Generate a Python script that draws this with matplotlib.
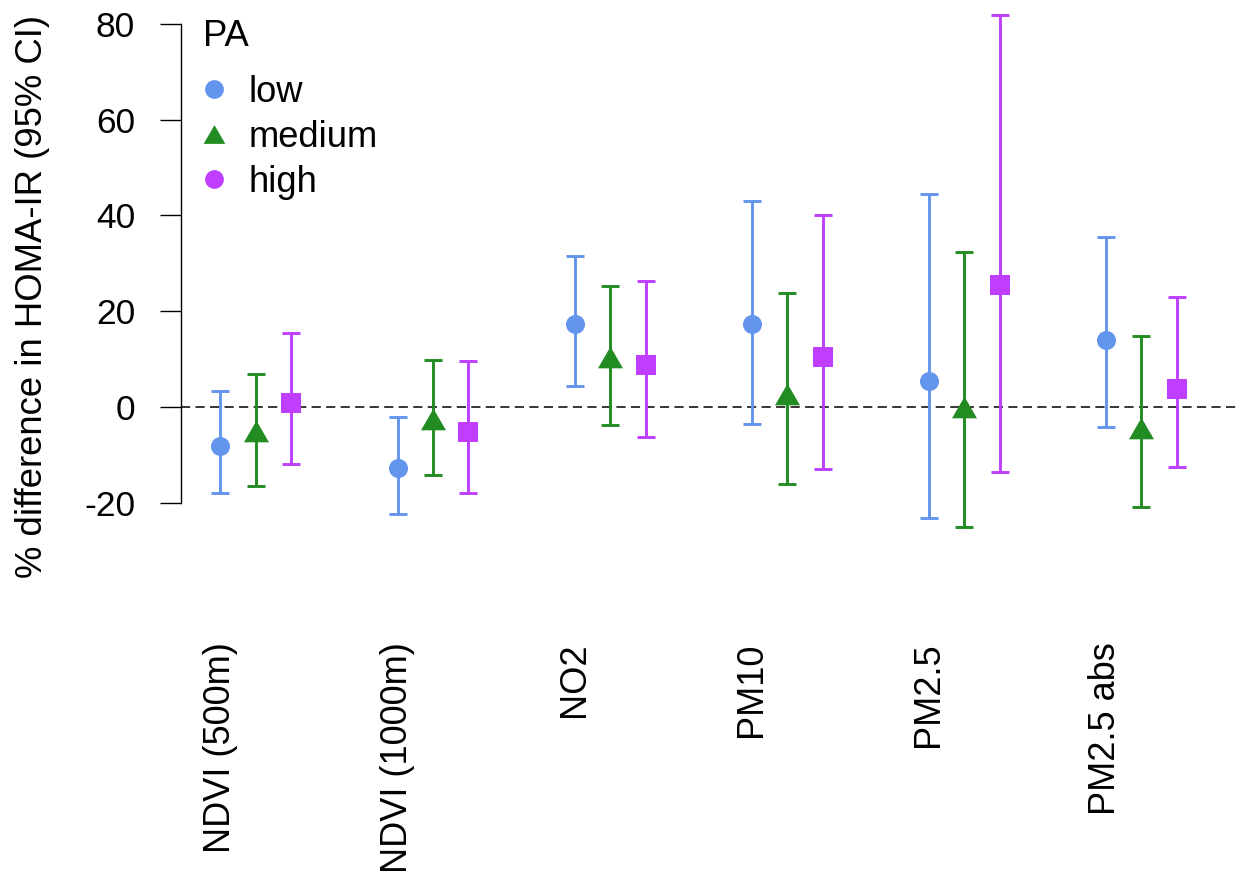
import matplotlib
matplotlib.use("Agg")
import matplotlib.pyplot as plt
import numpy as np
from matplotlib.lines import Line2D

plt.rcParams['font.family'] = ['Liberation Sans', 'DejaVu Sans']

categories = ["NDVI (500m)", "NDVI (1000m)", "NO2", "PM10", "PM2.5", "PM2.5 abs"]
groups = ["low", "medium", "high"]

low_est = [-8.0, -12.7, 17.3, 17.4, 5.5, 14.1]
low_lo = [-17.9, -22.3, 4.5, -3.4, -23.0, -4.1]
low_hi = [3.4, -2.0, 31.5, 43.0, 44.5, 35.6]

med_est = [-4.9, -2.4, 10.5, 2.7, 0.1, -4.4]
med_lo = [-16.4, -14.2, -3.6, -15.9, -25.0, -20.9]
med_hi = [6.9, 9.8, 25.3, 23.9, 32.4, 14.8]

high_est = [0.8, -5.2, 8.9, 10.4, 25.4, 3.8]
high_lo = [-11.8, -17.9, -6.2, -12.8, -13.4, -12.5]
high_hi = [15.4, 9.7, 26.4, 40.1, 81.8, 23.1]

yticks = [-20, 0, 20, 40, 60, 80]

colors = ["#6495ED", "#228B22", "#BF3EFF"]
tri = [(-1, -0.866), (1, -0.866), (0, 0.866)]
markers = ["o", tri, "s"]
msizes = [13.7, 18.0, 13.9]
offsets = [0.0, 0.2, 0.4]

series = [(low_est, low_lo, low_hi), (med_est, med_lo, med_hi), (high_est, high_lo, high_hi)]

fig = plt.figure(figsize=(12.37, 8.75), dpi=100)
ax = fig.add_axes([181 / 1237, 1 - 570.3 / 875, 1056 / 1237, (570.3 - 4.5) / 875])

xbase = np.arange(1, len(categories) + 1)
ax.axhline(0, color="black", lw=1.1, ls=(0, (6, 3.5)), zorder=1)

for (est, lo, hi), c, m, ms, off in zip(series, colors, markers, msizes, offsets):
    est = np.array(est); lo = np.array(lo); hi = np.array(hi)
    ax.errorbar(xbase + off, est, yerr=[est - lo, hi - est], fmt="none",
                ecolor=c, elinewidth=2.1, capsize=6.5, capthick=2.1, zorder=2)
    ax.plot(xbase + off, est, linestyle="none", marker=m, ms=ms, color=c,
            mew=0, zorder=3)

ax.set_xlim(0.777, 6.74)
ax.set_ylim(-34, 84)

ax.set_xticks(xbase)
ax.set_xticklabels(categories, rotation=90, fontsize=26)
ax.tick_params(axis="x", length=0, pad=51.8)

ax.set_yticks(yticks)
ax.set_yticklabels([str(t) for t in yticks], fontsize=25.5)
ax.tick_params(axis="y", length=15, width=1.0, pad=18, direction="out")

for s in ["top", "right", "bottom"]:
    ax.spines[s].set_visible(False)
ax.spines["left"].set_bounds(-20, 80)
ax.spines["left"].set_linewidth(1.0)

ax.set_ylabel("% difference in HOMA-IR (95% CI)", fontsize=26.3, va="baseline")
ax.yaxis.set_label_coords((42 - 181) / 1056, (570.3 - 296) / 565.8)

handles = [
    Line2D([], [], linestyle="none", marker="o", ms=13.5, color=colors[0], mew=0),
    Line2D([], [], linestyle="none", marker=tri, ms=15.6, color=colors[1], mew=0),
    Line2D([], [], linestyle="none", marker="o", ms=13.5, color=colors[2], mew=0),
]
leg = ax.legend(handles, groups, title="PA", fontsize=26.2, title_fontsize=26.2,
                frameon=False, loc="upper left",
                bbox_to_anchor=(185 / 1237, 1 - 1 / 875), bbox_transform=fig.transFigure,
                borderpad=0.5, borderaxespad=0, handlelength=0.58, handletextpad=0.66,
                labelspacing=0.27, alignment="left")
leg._legend_box.sep = 15

fig.savefig("out.png", dpi=100)
